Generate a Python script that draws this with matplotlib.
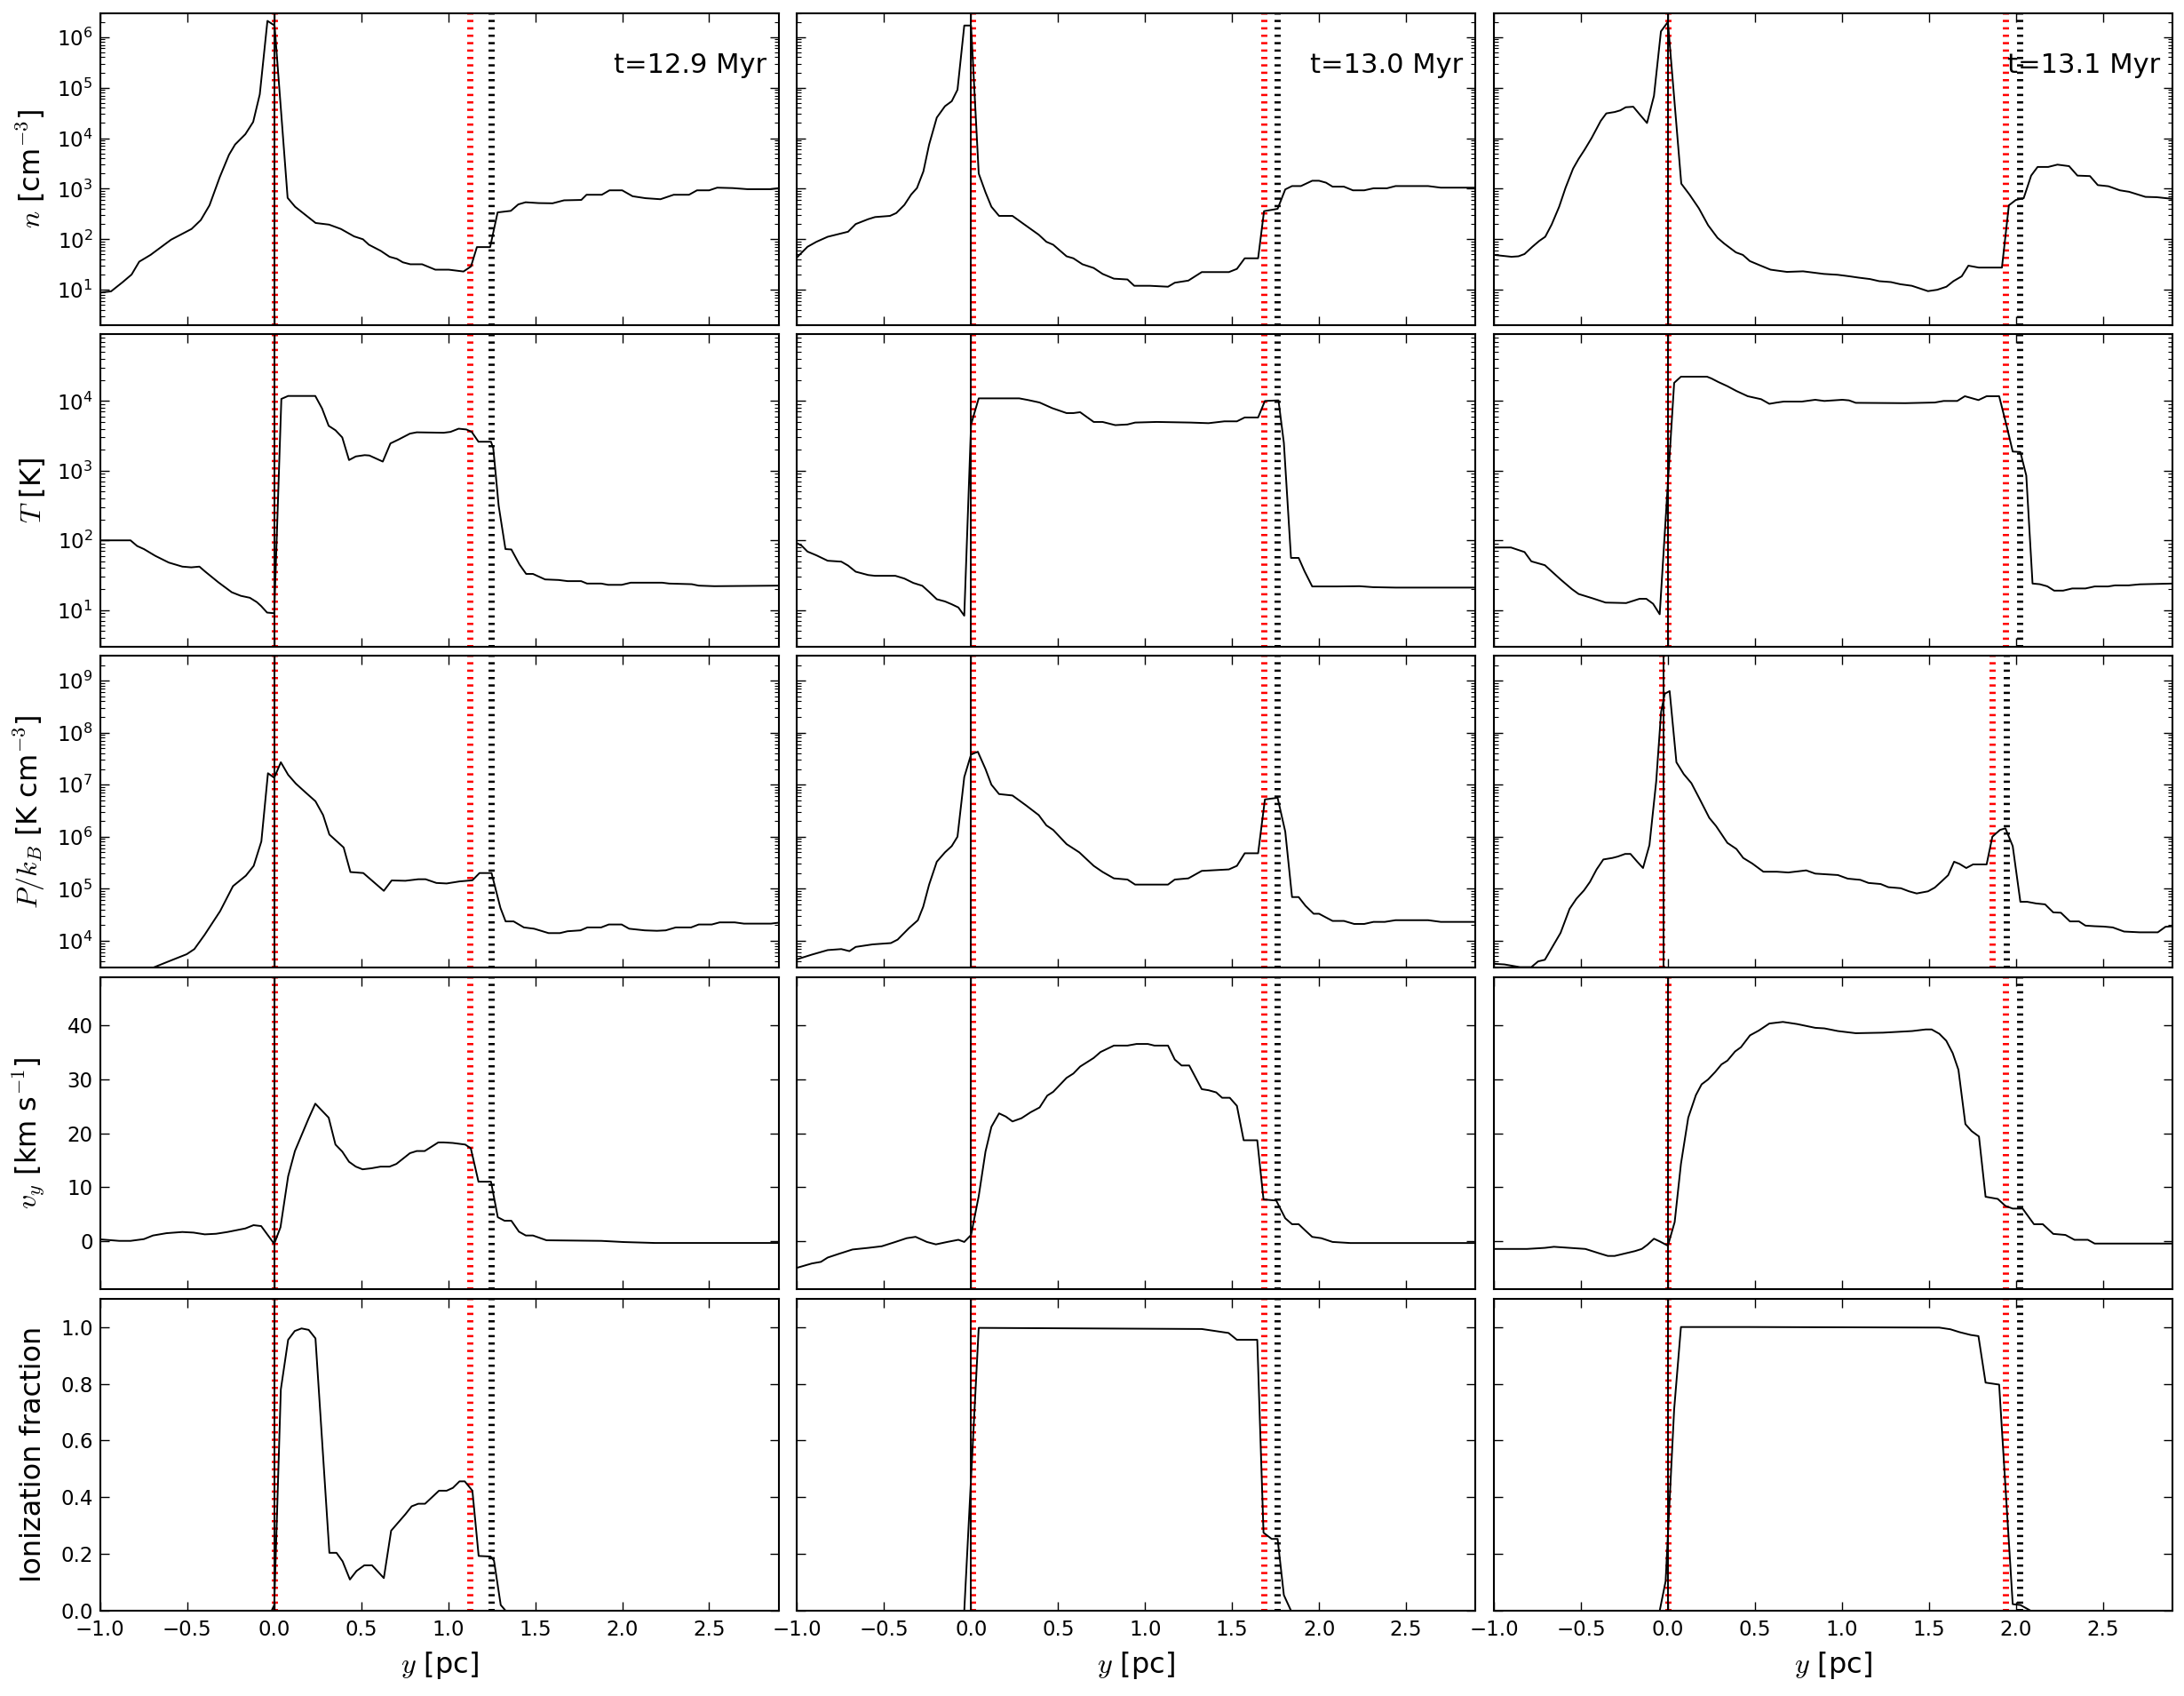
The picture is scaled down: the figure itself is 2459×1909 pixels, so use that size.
import numpy as np
import matplotlib
matplotlib.use("Agg")
import matplotlib.pyplot as plt

# ---------------- data ----------------
times = ["t=12.9 Myr", "t=13.0 Myr", "t=13.1 Myr"]
ylabels = [r"$n$ [cm$^{-3}$]", r"$T$ [K]", r"$P/k_B$ [K cm$^{-3}$]",
           r"$v_y$ [km s$^{-1}$]", "Ionization fraction"]
xlabel = r"$y$ [pc]"
xticks = [-1.0, -0.5, 0.0, 0.5, 1.0, 1.5, 2.0, 2.5]
v_ticks = [0, 10, 20, 30, 40]
ion_ticks = [0.0, 0.2, 0.4, 0.6, 0.8, 1.0]

# front positions [pc]: (left red, left black, right red, right black)
fronts_129 = [0.0, 0.0, 1.125, 1.245]
fronts_130 = [0.01, 0.0, 1.684, 1.762]
fronts_131 = [0.0, 0.0, 1.94, 2.02]
fronts_131_pressure = [-0.035, -0.026, 1.865, 1.943]

# ---- t = 12.9 Myr ----
n_129 = [(-1, 8.8), (-0.938, 9.3), (-0.873, 14), (-0.82, 20), (-0.776, 36), (-0.711, 49), (-0.593, 98),
         (-0.475, 160), (-0.422, 240), (-0.372, 470), (-0.313, 1700), (-0.26, 4700), (-0.225, 7500),
         (-0.166, 12000), (-0.121, 21000), (-0.083, 74000), (-0.039, 2.1e6), (0.002, 1.7e6), (0.077, 660),
         (0.12, 440), (0.238, 210), (0.315, 195), (0.383, 160), (0.459, 114), (0.51, 100), (0.544, 78),
         (0.612, 59), (0.663, 45), (0.705, 41), (0.739, 35), (0.782, 32), (0.85, 32), (0.926, 25), (1.003, 25),
         (1.088, 23), (1.131, 29), (1.165, 70), (1.241, 70), (1.284, 340), (1.36, 365), (1.403, 490),
         (1.445, 540), (1.52, 520), (1.6, 515), (1.666, 590), (1.765, 600), (1.795, 760), (1.883, 760),
         (1.927, 930), (2.0, 930), (2.06, 710), (2.134, 650), (2.22, 620), (2.296, 760), (2.384, 760),
         (2.43, 930), (2.5, 930), (2.546, 1050), (2.635, 1030), (2.72, 980), (2.855, 980), (2.9, 1030)]
T_129 = [(-1, 100), (-0.826, 100), (-0.788, 83), (-0.749, 75), (-0.684, 60), (-0.606, 48), (-0.528, 42),
         (-0.477, 41), (-0.43, 42), (-0.399, 36), (-0.321, 25), (-0.244, 18), (-0.192, 16), (-0.14, 15),
         (-0.1, 13), (-0.075, 11.4), (-0.041, 9.2), (0.0, 9), (0.041, 10700), (0.08, 11800), (0.236, 11800),
         (0.275, 7800), (0.313, 4400), (0.352, 3800), (0.391, 3000), (0.43, 1420), (0.469, 1600),
         (0.52, 1670), (0.547, 1650), (0.624, 1350), (0.668, 2460), (0.715, 2800), (0.78, 3400),
         (0.819, 3550), (0.974, 3500), (1.013, 3600), (1.06, 4000), (1.104, 3900), (1.135, 3600),
         (1.174, 2600), (1.246, 2600), (1.259, 2100), (1.29, 315), (1.329, 75), (1.363, 74), (1.41, 45),
         (1.448, 33), (1.487, 33), (1.557, 27.5), (1.635, 27), (1.686, 26), (1.764, 26), (1.798, 24),
         (1.88, 24), (1.919, 23), (1.997, 23), (2.049, 24.7), (2.23, 24.7), (2.27, 24), (2.40, 23.5),
         (2.44, 22.4), (2.53, 22), (2.9, 22.4)]
P_129 = [(-1, 1500), (-0.8, 2200), (-0.689, 3100), (-0.607, 4000), (-0.503, 5500), (-0.459, 6900),
         (-0.40, 13000), (-0.311, 37000), (-0.237, 112000), (-0.163, 178000), (-0.118, 275000),
         (-0.074, 810000), (-0.036, 1.66e7), (0.0, 1.36e7), (0.038, 2.7e7), (0.08, 1.55e7), (0.124, 1.05e7),
         (0.178, 7.2e6), (0.237, 4.8e6), (0.281, 2.6e6), (0.317, 1.1e6), (0.399, 6.2e5), (0.438, 2.09e5),
         (0.512, 2.0e5), (0.63, 9.1e4), (0.675, 1.44e5), (0.754, 1.42e5), (0.828, 1.52e5), (0.87, 1.52e5),
         (0.932, 1.29e5), (0.991, 1.26e5), (1.065, 1.38e5), (1.139, 1.45e5), (1.18, 2.0e5), (1.249, 2.0e5),
         (1.30, 4.3e4), (1.33, 2.35e4), (1.376, 2.35e4), (1.435, 1.8e4), (1.494, 1.7e4), (1.577, 1.4e4),
         (1.642, 1.4e4), (1.686, 1.52e4), (1.76, 1.58e4), (1.80, 1.8e4), (1.879, 1.8e4), (1.923, 2.05e4),
         (1.997, 2.05e4), (2.04, 1.7e4), (2.13, 1.58e4), (2.20, 1.55e4), (2.25, 1.58e4), (2.308, 1.8e4),
         (2.396, 1.8e4), (2.44, 2.05e4), (2.515, 2.05e4), (2.56, 2.25e4), (2.647, 2.25e4), (2.70, 2.13e4),
         (2.855, 2.13e4), (2.914, 2.25e4)]
v_129 = [(-1, 0.28), (-0.891, 0), (-0.826, 0), (-0.749, 0.33), (-0.697, 1.0), (-0.619, 1.43), (-0.528, 1.65),
         (-0.464, 1.54), (-0.399, 1.21), (-0.334, 1.32), (-0.269, 1.65), (-0.166, 2.31), (-0.119, 2.92),
         (-0.075, 2.75), (0.0, -0.55), (0.036, 2.53), (0.08, 12.0), (0.119, 16.7), (0.197, 22.7),
         (0.236, 25.5), (0.313, 22.9), (0.352, 17.9), (0.391, 16.6), (0.43, 14.7), (0.469, 13.8),
         (0.508, 13.3), (0.56, 13.5), (0.611, 13.8), (0.663, 13.8), (0.702, 14.3), (0.78, 16.3),
         (0.819, 16.7), (0.865, 16.7), (0.943, 18.3), (0.974, 18.3), (1.026, 18.2), (1.098, 17.9),
         (1.13, 17.2), (1.174, 11.0), (1.246, 11.0), (1.285, 4.4), (1.324, 3.74), (1.363, 3.74),
         (1.407, 1.7), (1.446, 1.0), (1.487, 1.0), (1.565, 0.11), (1.88, 0), (2.01, -0.22), (2.19, -0.39),
         (2.9, -0.39)]
ion_129 = [(-1, 0), (-0.015, 0), (0.0, 0.02), (0.038, 0.78), (0.08, 0.955), (0.118, 0.986), (0.157, 0.995),
           (0.198, 0.99), (0.237, 0.96), (0.317, 0.204), (0.358, 0.204), (0.393, 0.174), (0.435, 0.11),
           (0.473, 0.14), (0.518, 0.16), (0.562, 0.16), (0.63, 0.115), (0.672, 0.282), (0.754, 0.34),
           (0.79, 0.368), (0.828, 0.377), (0.867, 0.377), (0.947, 0.423), (0.991, 0.423), (1.027, 0.433),
           (1.065, 0.456), (1.095, 0.456), (1.139, 0.423), (1.175, 0.193), (1.243, 0.191), (1.263, 0.177),
           (1.302, 0.02), (1.33, 0.0), (2.9, 0.0)]

# ---- t = 13.0 Myr ----
n_130 = [(-1, 44), (-0.94, 71), (-0.889, 89), (-0.824, 112), (-0.707, 141), (-0.663, 200), (-0.591, 250),
         (-0.552, 275), (-0.466, 290), (-0.43, 330), (-0.383, 480), (-0.344, 770), (-0.311, 1030),
         (-0.274, 2200), (-0.241, 7500), (-0.197, 25600), (-0.15, 43000), (-0.111, 54000), (-0.078, 91000),
         (-0.039, 1.7e6), (0.0, 1.7e6), (0.044, 2000), (0.083, 850), (0.117, 440), (0.161, 290),
         (0.238, 290), (0.303, 200), (0.389, 123), (0.433, 89), (0.472, 78), (0.549, 46), (0.588, 42),
         (0.64, 32), (0.705, 27), (0.756, 20.6), (0.821, 16.6), (0.899, 16), (0.938, 12), (1.028, 12),
         (1.132, 11.5), (1.171, 13.8), (1.249, 15.2), (1.326, 22.4), (1.482, 22.4), (1.528, 25.9),
         (1.573, 42), (1.65, 42), (1.684, 360), (1.762, 400), (1.806, 970), (1.845, 1130), (1.896, 1130),
         (1.961, 1440), (2.0, 1440), (2.04, 1320), (2.078, 1100), (2.143, 1100), (2.195, 930), (2.26, 930),
         (2.313, 1020), (2.39, 1020), (2.44, 1130), (2.627, 1130), (2.70, 1050), (2.9, 1050)]
T_130 = [(-1, 91), (-0.974, 84), (-0.94, 69), (-0.889, 61), (-0.824, 51), (-0.746, 49.5), (-0.707, 43.5),
         (-0.663, 35.5), (-0.591, 31.8), (-0.552, 31), (-0.435, 31), (-0.383, 28.3), (-0.332, 24.5),
         (-0.28, 22.3), (-0.241, 18.2), (-0.197, 14.3), (-0.15, 13.3), (-0.111, 12.1), (-0.073, 10.9),
         (-0.039, 8.3), (0.0, 4600), (0.044, 10900), (0.277, 10900), (0.329, 10300), (0.394, 9500),
         (0.466, 7900), (0.549, 6700), (0.588, 6700), (0.627, 6900), (0.705, 5000), (0.756, 5000),
         (0.829, 4500), (0.899, 4600), (0.943, 4900), (1.067, 5000), (1.262, 4900), (1.365, 4800),
         (1.456, 5100), (1.528, 5100), (1.573, 5800), (1.65, 5800), (1.689, 10000), (1.767, 10200),
         (1.798, 2500), (1.839, 56), (1.883, 56), (1.917, 36), (1.961, 21.8), (2.104, 21.8), (2.233, 22),
         (2.31, 21.3), (2.44, 21), (2.9, 21)]
P_130 = [(-1, 4400), (-0.915, 5400), (-0.824, 6600), (-0.746, 6900), (-0.699, 6300), (-0.663, 7600),
         (-0.565, 8500), (-0.461, 9000), (-0.422, 10500), (-0.358, 17300), (-0.306, 24700), (-0.275, 45000),
         (-0.241, 1.2e5), (-0.197, 3.3e5), (-0.15, 5.0e5), (-0.111, 6.6e5), (-0.078, 1.0e6), (-0.039, 1.4e7),
         (0.0, 3.8e7), (0.039, 4.3e7), (0.083, 2.0e7), (0.117, 1.0e7), (0.161, 6.6e6), (0.238, 6.2e6),
         (0.316, 4.0e6), (0.389, 2.6e6), (0.433, 1.65e6), (0.472, 1.35e6), (0.549, 7.2e5), (0.622, 5.0e5),
         (0.705, 2.75e5), (0.756, 2.1e5), (0.821, 1.58e5), (0.899, 1.5e5), (0.943, 1.2e5), (1.132, 1.2e5),
         (1.171, 1.5e5), (1.249, 1.58e5), (1.326, 2.2e5), (1.482, 2.35e5), (1.528, 2.75e5), (1.573, 4.8e5),
         (1.65, 4.8e5), (1.689, 5.2e6), (1.762, 5.6e6), (1.806, 1.25e6), (1.845, 6.9e4), (1.883, 6.9e4),
         (1.922, 4.7e4), (1.969, 3.3e4), (2.0, 3.3e4), (2.04, 2.8e4), (2.078, 2.4e4), (2.143, 2.4e4),
         (2.202, 2.1e4), (2.26, 2.1e4), (2.313, 2.3e4), (2.378, 2.3e4), (2.44, 2.48e4), (2.627, 2.48e4),
         (2.70, 2.3e4), (2.9, 2.3e4)]
v_130 = [(-1, -5.0), (-0.915, -4.2), (-0.863, -3.9), (-0.824, -3.1), (-0.759, -2.4), (-0.681, -1.6),
         (-0.591, -1.3), (-0.513, -1.0), (-0.435, -0.2), (-0.37, 0.5), (-0.319, 0.75), (-0.254, -0.2),
         (-0.202, -0.65), (-0.137, -0.2), (-0.073, 0.2), (-0.039, -0.2), (0.0, 1.1), (0.044, 8.3),
         (0.083, 16.6), (0.117, 21.2), (0.161, 23.7), (0.2, 23.1), (0.238, 22.2), (0.29, 22.8),
         (0.342, 23.9), (0.394, 24.8), (0.438, 27.0), (0.472, 27.7), (0.549, 30.3), (0.588, 31.1),
         (0.627, 32.4), (0.705, 34.0), (0.744, 35.1), (0.821, 36.3), (0.899, 36.3), (0.951, 36.6),
         (1.016, 36.6), (1.054, 36.3), (1.132, 36.3), (1.171, 33.7), (1.21, 32.6), (1.254, 32.6),
         (1.326, 28.2), (1.365, 28.0), (1.409, 27.6), (1.443, 26.6), (1.487, 26.6), (1.528, 25.1),
         (1.567, 18.7), (1.645, 18.7), (1.681, 7.7), (1.754, 7.5), (1.806, 4.2), (1.845, 3.1), (1.883, 3.1),
         (1.922, 1.9), (1.961, 0.74), (2.013, 0.5), (2.078, -0.2), (2.18, -0.4), (2.9, -0.4)]
ion_130 = [(-1, 0), (-0.039, 0), (0.044, 0.997), (1.326, 0.993), (1.48, 0.979), (1.528, 0.955),
           (1.645, 0.955), (1.681, 0.275), (1.728, 0.253), (1.762, 0.253), (1.798, 0.055), (1.839, 0.0),
           (2.9, 0)]

# ---- t = 13.1 Myr ----
n_131 = [(-1, 49), (-0.899, 45), (-0.859, 46), (-0.824, 51), (-0.779, 71), (-0.739, 93), (-0.705, 112),
         (-0.668, 196), (-0.625, 440), (-0.588, 1050), (-0.545, 2500), (-0.513, 3900), (-0.479, 5900),
         (-0.439, 10000), (-0.386, 22000), (-0.354, 31000), (-0.306, 33000), (-0.274, 35500),
         (-0.242, 41000), (-0.199, 42000), (-0.16, 29000), (-0.12, 20000), (-0.08, 69000), (-0.04, 1.3e6),
         (0.0, 2.0e6), (0.077, 1260), (0.125, 760), (0.178, 410), (0.231, 190), (0.285, 107), (0.324, 82),
         (0.391, 55), (0.431, 49), (0.471, 37), (0.524, 31), (0.59, 25), (0.684, 22.6), (0.777, 23.2),
         (0.896, 20.6), (0.976, 19.8), (1.043, 18.5), (1.096, 17.4), (1.162, 16.3), (1.215, 14.8),
         (1.282, 14.2), (1.335, 12.9), (1.402, 12), (1.495, 9.4), (1.548, 10), (1.601, 11.5), (1.641, 14.8),
         (1.689, 18.5), (1.727, 30), (1.787, 27.5), (1.92, 27.5), (1.96, 470), (2.0, 600), (2.045, 650),
         (2.088, 1820), (2.125, 2700), (2.186, 2700), (2.239, 3000), (2.306, 2800), (2.354, 1820),
         (2.426, 1780), (2.471, 1180), (2.532, 1120), (2.598, 930), (2.651, 870), (2.745, 690), (2.81, 680),
         (2.9, 630)]
T_131 = [(-1, 79), (-0.902, 79), (-0.824, 68), (-0.785, 50), (-0.707, 44), (-0.617, 27.5), (-0.552, 20),
         (-0.513, 17), (-0.435, 14.8), (-0.358, 12.8), (-0.24, 12.6), (-0.163, 14.5), (-0.124, 14.5),
         (-0.085, 12.3), (-0.047, 8.7), (0.036, 18200), (0.075, 22300), (0.225, 22300), (0.251, 21000),
         (0.29, 18700), (0.342, 16300), (0.394, 13900), (0.459, 11700), (0.536, 10600), (0.583, 9100),
         (0.627, 9500), (0.666, 9800), (0.77, 9800), (0.847, 10400), (0.899, 10000), (1.003, 10400),
         (1.041, 10200), (1.08, 9400), (1.365, 9300), (1.534, 9500), (1.585, 10000), (1.663, 10000),
         (1.707, 11700), (1.785, 10300), (1.832, 11700), (1.904, 11700), (1.948, 4300), (1.982, 1880),
         (2.026, 1850), (2.06, 850), (2.096, 24), (2.137, 23.5), (2.181, 21.9), (2.22, 19), (2.272, 19),
         (2.324, 20.4), (2.40, 20.4), (2.453, 21.8), (2.53, 21.8), (2.57, 22.6), (2.648, 22.6),
         (2.712, 23.4), (2.9, 24)]
P_131 = [(-1, 3600), (-0.94, 3500), (-0.85, 3100), (-0.785, 3100), (-0.746, 4000), (-0.707, 4300),
         (-0.668, 7200), (-0.617, 14100), (-0.565, 41000), (-0.526, 64000), (-0.482, 93000),
         (-0.448, 1.35e5), (-0.41, 2.34e5), (-0.371, 3.65e5), (-0.319, 3.9e5), (-0.288, 4.15e5),
         (-0.246, 4.66e5), (-0.215, 4.66e5), (-0.176, 3.3e5), (-0.143, 2.5e5), (-0.106, 6.9e5),
         (-0.067, 1.17e7), (-0.039, 2.5e8), (-0.018, 5.6e8), (0.01, 6.3e8), (0.049, 2.7e7), (0.091, 1.6e7),
         (0.135, 1.07e7), (0.179, 5.6e6), (0.238, 2.3e6), (0.277, 1.6e6), (0.342, 7.6e5), (0.394, 5.8e5),
         (0.433, 3.9e5), (0.485, 3.05e5), (0.549, 2.12e5), (0.627, 2.12e5), (0.692, 2.05e5),
         (0.795, 2.25e5), (0.847, 1.95e5), (0.977, 1.83e5), (1.034, 1.56e5), (1.106, 1.48e5),
         (1.153, 1.29e5), (1.223, 1.23e5), (1.267, 1.07e5), (1.339, 1.02e5), (1.386, 8.9e4), (1.43, 8.1e4),
         (1.495, 8.9e4), (1.534, 1.05e5), (1.573, 1.38e5), (1.611, 1.82e5), (1.645, 3.3e5), (1.676, 3.0e5),
         (1.715, 2.5e5), (1.754, 2.93e5), (1.832, 2.93e5), (1.865, 1.0e6), (1.909, 1.35e6), (1.94, 1.45e6),
         (1.982, 6.6e5), (2.026, 5.6e4), (2.065, 5.6e4), (2.117, 5.2e4), (2.168, 5.0e4), (2.215, 3.5e4),
         (2.259, 3.45e4), (2.311, 2.35e4), (2.363, 2.35e4), (2.40, 1.95e4), (2.453, 1.9e4), (2.505, 1.87e4),
         (2.557, 1.8e4), (2.622, 1.5e4), (2.712, 1.45e4), (2.816, 1.45e4), (2.86, 1.85e4), (2.9, 1.9e4)]
v_131 = [(-1, -1.5), (-0.81, -1.5), (-0.707, -1.3), (-0.655, -1.1), (-0.474, -1.5), (-0.396, -2.3),
         (-0.345, -2.8), (-0.306, -2.8), (-0.267, -2.5), (-0.189, -1.9), (-0.15, -1.5), (-0.117, -0.7),
         (-0.08, 0.4), (-0.047, -0.1), (0.0, -0.9), (0.039, 3.5), (0.075, 14.3), (0.117, 22.9),
         (0.161, 27.1), (0.194, 29.1), (0.231, 30.0), (0.272, 31.4), (0.308, 32.8), (0.342, 33.5),
         (0.386, 35.2), (0.42, 36.0), (0.472, 38.2), (0.523, 39.1), (0.583, 40.4), (0.661, 40.7),
         (0.743, 40.3), (0.847, 39.6), (0.899, 39.5), (0.977, 39.0), (1.08, 38.6), (1.236, 38.7),
         (1.404, 39.0), (1.482, 39.3), (1.516, 39.3), (1.56, 38.5), (1.60, 37.2), (1.637, 34.9),
         (1.67, 31.8), (1.71, 21.7), (1.746, 20.4), (1.788, 19.4), (1.826, 8.2), (1.896, 7.8), (1.94, 6.5),
         (1.982, 6.0), (2.039, 6.0), (2.104, 3.1), (2.155, 3.1), (2.215, 1.3), (2.285, 1.1), (2.337, 0.2),
         (2.414, 0.2), (2.453, -0.5), (2.9, -0.5)]
ion_131 = [(-1, 0), (-0.047, 0), (-0.013, 0.104), (0.036, 0.71), (0.075, 1.0), (0.459, 1.0),
           (1.56, 0.998), (1.624, 0.992), (1.676, 0.982), (1.741, 0.972), (1.785, 0.968), (1.826, 0.804),
           (1.904, 0.797), (1.982, 0.023), (2.026, 0.02), (2.085, 0.0), (2.9, 0.0)]

columns = [
    [n_129, T_129, P_129, v_129, ion_129],
    [n_130, T_130, P_130, v_130, ion_130],
    [n_131, T_131, P_131, v_131, ion_131],
]
fronts = [
    [fronts_129] * 5,
    [fronts_130] * 5,
    [fronts_131, fronts_131, fronts_131_pressure, fronts_131, fronts_131],
]

# ---------------- style ----------------
plt.rcParams.update({
    "font.family": "DejaVu Sans",
    "mathtext.fontset": "cm",
    "font.size": 16.5,
    "xtick.labelsize": 16.5,
    "ytick.labelsize": 16.5,
    "axes.labelsize": 23,
    "axes.linewidth": 1.5,
    "xtick.direction": "in",
    "ytick.direction": "in",
    "xtick.top": True,
    "ytick.right": True,
    "xtick.major.size": 7,
    "ytick.major.size": 7,
    "xtick.minor.size": 3.5,
    "ytick.minor.size": 3.5,
    "xtick.major.width": 1.0,
    "ytick.major.width": 1.0,
    "xtick.minor.width": 0.8,
    "ytick.minor.width": 0.8,
    "xtick.major.pad": 7,
    "ytick.major.pad": 6,
})

fig, axes = plt.subplots(5, 3, figsize=(24.59, 19.09), dpi=100, sharex=True, sharey="row")
fig.subplots_adjust(left=0.0459, right=0.9947, top=0.9923, bottom=0.0503, wspace=0.027, hspace=0.030)

ylims = [(2, 3e6), (3, 9e4), (3e3, 3e9), (-9, 49), (0, 1.1)]
logrows = [True, True, True, False, False]
dash = (0, (0.36, 0.84))

for c in range(3):
    for r in range(5):
        ax = axes[r, c]
        pts = np.array(columns[c][r], dtype=float)
        fl = fronts[c][r]
        ax.axvline(fl[0], color="red", lw=5, linestyle=dash, zorder=1)
        ax.axvline(fl[1], color="black", lw=1.4, zorder=2)
        ax.axvline(fl[2], color="red", lw=5, linestyle=dash, zorder=1)
        ax.axvline(fl[3], color="black", lw=5, linestyle=dash, zorder=1)
        ax.plot(pts[:, 0], pts[:, 1], color="black", lw=1.4, zorder=3)
        if logrows[r]:
            ax.set_yscale("log")
        ax.set_ylim(*ylims[r])
        ax.set_xlim(-1.0, 2.9)
        if r == 0:
            ax.text(0.982, 0.834, times[c], transform=ax.transAxes, ha="right", va="center", fontsize=22)
        if c == 0:
            ax.set_ylabel(ylabels[r])
            ax.yaxis.set_label_coords(-0.078, 0.5)
        if r == 4:
            ax.set_xlabel(xlabel, labelpad=8)

axes[4, 0].set_xticks(xticks)
axes[3, 0].set_yticks(v_ticks)
axes[4, 0].set_yticks(ion_ticks)
axes[4, 0].yaxis.set_major_formatter(matplotlib.ticker.FormatStrFormatter("%.1f"))
axes[4, 0].xaxis.set_major_formatter(matplotlib.ticker.FuncFormatter(lambda v, p: ("%.1f" % v).replace("-", "\u2212")))

fig.savefig("out.png", dpi=100, facecolor="white")
